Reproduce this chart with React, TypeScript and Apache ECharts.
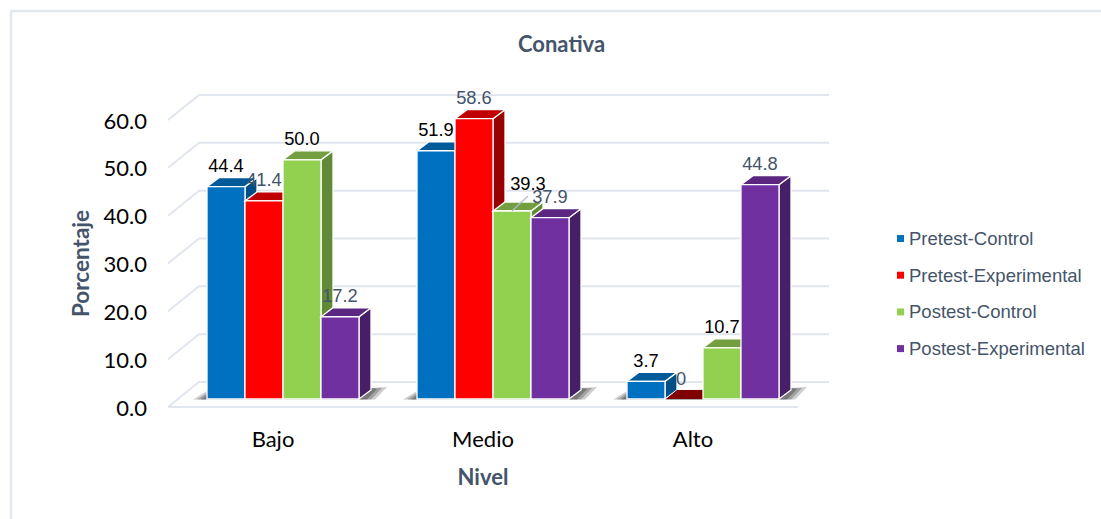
import React, { useEffect, useRef } from "react";
import * as echarts from "echarts";

const levels = ["Bajo", "Medio", "Alto"];
const groups = ["Pretest-Control", "Pretest-Experimental", "Postest-Control", "Postest-Experimental"];
const pretestControl = [44.4, 51.9, 3.7];
const pretestExperimental = [41.4, 58.6, 0];
const postestControl = [50.0, 39.3, 10.7];
const postestExperimental = [17.2, 37.9, 44.8];
const yTicks = [0, 10, 20, 30, 40, 50, 60];

const groupValues = [pretestControl, pretestExperimental, postestControl, postestExperimental];

// Front, top and side shade of each 3D column.
const shades = [
  { front: "#0070C0", top: "#005A9A", side: "#004F86" },
  { front: "#FF0000", top: "#C00000", side: "#990000" },
  { front: "#92D050", top: "#749F40", side: "#618A36" },
  { front: "#7030A0", top: "#5A2680", side: "#461F66" },
];

const INK = "#000000";
const SLATE = "#44546A";
const labelInk = [
  [INK, INK, INK],
  [SLATE, SLATE, SLATE],
  [INK, INK, INK],
  [SLATE, SLATE, SLATE],
];

const GRID_LINE = "#E1E5EE";
const WALL_DX = 31; // floor depth towards the back wall
const WALL_DY = 25;
const PLANE_DX = 10; // columns stand a little behind the front edge of the floor
const PLANE_DY = 8;
const COL_DX = 12; // depth of a column
const COL_DY = 9;
const COL_SHARE = 38 / 210; // column width as a share of the category band

const pts = (...p: number[][]) => p;

const renderWalls = (_: any, api: any) => {
  const v = api.value(1);
  const band = api.size([1, 0])[0];
  const [cx, y] = api.coord([0, v]);
  const left = cx - band / 2;
  const right = left + band * levels.length;
  const lineStyle = { stroke: GRID_LINE, lineWidth: 2, fill: "none" };
  const children: any[] = [
    {
      type: "polyline",
      shape: { points: pts([left, y], [left + WALL_DX, y - WALL_DY], [right + WALL_DX, y - WALL_DY]) },
      style: lineStyle,
    },
  ];
  if (v === 0) {
    children.push({
      type: "line",
      shape: { x1: left, y1: y, x2: right, y2: y },
      style: lineStyle,
    });
  }
  return { type: "group", children };
};

// Soft cast shadow on the floor, built from nested translucent wedges.
const renderShadow = (_: any, api: any) => {
  const band = api.size([1, 0])[0];
  const w = band * COL_SHARE;
  const [cx, y] = api.coord([api.value(0), 0]);
  const base = y - PLANE_DY;
  const x0 = cx + PLANE_DX - 2 * w;
  const x1 = cx + PLANE_DX + 2 * w;
  const wedge = (grow: number, alpha: number) => ({
    type: "polygon",
    shape: {
      points: pts(
        [x0 - 6 - 8 * grow, base + 0.5],
        [x1 + 8 + 8 * grow, base + 0.5],
        [x1 + 18 + 10 * grow, base - 10 - 2 * grow],
        [x1 + 10, base - 11],
        [x0, base - 4 - 4 * grow]
      ),
    },
    style: { fill: `rgba(60,60,60,${alpha})` },
  });
  return { type: "group", children: [wedge(1, 0.25), wedge(0.5, 0.3), wedge(0, 0.4)] };
};

const renderColumn = (s: number) => (_: any, api: any) => {
  const band = api.size([1, 0])[0];
  const w = band * COL_SHARE;
  const v = api.value(1);
  const [cx, y0] = api.coord([api.value(0), 0]);
  const top = api.coord([api.value(0), v])[1] - PLANE_DY;
  const base = y0 - PLANE_DY;
  const x0 = cx + PLANE_DX + (s - 2) * w;
  const x1 = x0 + w;
  const shade = shades[s];
  const edge = { stroke: "#FFFFFF", lineWidth: 1.3 };
  const children: any[] = [];
  if (v === 0) {
    // An empty column is only its dark floor print.
    children.push({
      type: "polygon",
      shape: { points: pts([x0 + 1, base], [x1, base], [x1 + COL_DX, base - COL_DY], [x0 + COL_DX, base - COL_DY]) },
      style: { fill: "#7F0000" },
    });
    return { type: "group", children };
  }
  children.push(
    {
      type: "polygon",
      shape: { points: pts([x1, top], [x1 + COL_DX, top - COL_DY], [x1 + COL_DX, base - COL_DY], [x1, base]) },
      style: { fill: shade.side, ...edge },
    },
    {
      type: "polygon",
      shape: { points: pts([x0, top], [x1, top], [x1 + COL_DX, top - COL_DY], [x0 + COL_DX, top - COL_DY]) },
      style: { fill: shade.top, ...edge },
    },
    { type: "rect", shape: { x: x0, y: top, width: w, height: base - top }, style: { fill: shade.front, ...edge } }
  );
  return { type: "group", children };
};

const LABEL_RISE = 21;
// The 39.3 label sits up and to the right of its column, tied to it by a leader line.
const MOVED = { group: 2, level: 1, dx: 16, dy: -7 };

const renderLabel = (_: any, api: any) => {
  const s = api.value(2);
  const cat = api.value(0);
  const v = api.value(1);
  const band = api.size([1, 0])[0];
  const w = band * COL_SHARE;
  const top = api.coord([cat, v])[1] - PLANE_DY;
  const x = api.coord([cat, v])[0] + PLANE_DX + (s - 2) * w + w / 2;
  const moved = s === MOVED.group && cat === MOVED.level;
  const children: any[] = [
    {
      type: "text",
      z2: 5,
      style: {
        text: v === 0 ? "0" : v.toFixed(1),
        x: x + (moved ? MOVED.dx : 0) - (v === 0 ? 3 : 0),
        y: top - LABEL_RISE + (moved ? MOVED.dy : 0),
        align: "center",
        verticalAlign: "middle",
        fontFamily: "Liberation Sans",
        fontSize: 18.3,
        fill: labelInk[s][cat],
      },
    },
  ];
  if (moved) {
    children.unshift({
      type: "line",
      shape: { x1: x + MOVED.dx, y1: top - 15, x2: x, y2: top },
      style: { stroke: "#B4BCCB", lineWidth: 1.2 },
    });
  }
  return { type: "group", children };
};

export default function App() {
  const ref = useRef<HTMLDivElement>(null);
  useEffect(() => {
    const chart = echarts.init(ref.current!, undefined, { renderer: "svg" });
    const labelRows = groupValues.flatMap((vals, s) => vals.map((v, c) => [c, v, s]));
    chart.setOption({
      animation: false,
      backgroundColor: "#FFFFFF",
      title: {
        text: "Conativa",
        left: 513,
        top: 27,
        textStyle: { fontFamily: "Lato", fontSize: 22, fontWeight: "bold", color: SLATE },
      },
      legend: {
        data: groups,
        orient: "vertical",
        left: 892,
        top: 224,
        itemWidth: 7,
        itemHeight: 7,
        itemGap: 17.7,
        icon: "rect",
        textStyle: { fontFamily: "Liberation Sans", fontSize: 18.5, color: SLATE },
      },
      grid: { left: 168, top: 120, width: 630, height: 287 },
      xAxis: {
        type: "category",
        data: levels,
        name: "Nivel",
        nameLocation: "middle",
        nameGap: 58,
        nameTextStyle: { fontFamily: "Lato", fontSize: 22, fontWeight: "bold", color: SLATE },
        axisLine: { show: false },
        axisTick: { show: false },
        axisLabel: { margin: 20, fontFamily: "Lato", fontSize: 22, color: "#000000" },
      },
      yAxis: {
        type: "value",
        min: 0,
        max: 60,
        interval: 10,
        name: "Porcentaje",
        nameLocation: "middle",
        nameGap: 76,
        nameTextStyle: { fontFamily: "Lato", fontSize: 22.5, fontWeight: "bold", color: SLATE },
        axisLine: { show: false },
        axisTick: { show: false },
        splitLine: { show: false },
        axisLabel: {
          margin: 21,
          fontFamily: "Lato",
          fontSize: 22,
          color: "#000000",
          formatter: (v: number) => v.toFixed(1),
        },
      },
      graphic: [
        {
          type: "rect",
          silent: true,
          z: -1,
          shape: { x: 11, y: 11, width: 1300, height: 700 },
          style: { fill: "none", stroke: "#E3E7EF", lineWidth: 2.5 },
        },
      ],
      series: [
        {
          name: "walls",
          type: "custom",
          silent: true,
          renderItem: renderWalls,
          data: yTicks.map((t) => [0, t]),
          encode: { x: 0, y: 1 },
          z: 1,
        },
        {
          name: "floor shadow",
          type: "custom",
          silent: true,
          renderItem: renderShadow,
          data: levels.map((_, i) => [i, 0]),
          encode: { x: 0, y: 1 },
          z: 2,
        },
        ...groups.map((name, s) => ({
          name,
          type: "custom",
          renderItem: renderColumn(s),
          itemStyle: { color: shades[s].front },
          data: groupValues[s].map((v, c) => [c, v]),
          encode: { x: 0, y: 1 },
          z: 3 + s,
        })),
        {
          name: "value labels",
          type: "custom",
          silent: true,
          renderItem: renderLabel,
          data: labelRows,
          encode: { x: 0, y: 1 },
          z: 10,
        },
      ],
    });
    return () => chart.dispose();
  }, []);
  return <div ref={ref} style={{ position: "absolute", left: 0, top: 0, width: 1101, height: 519 }} />;
}
